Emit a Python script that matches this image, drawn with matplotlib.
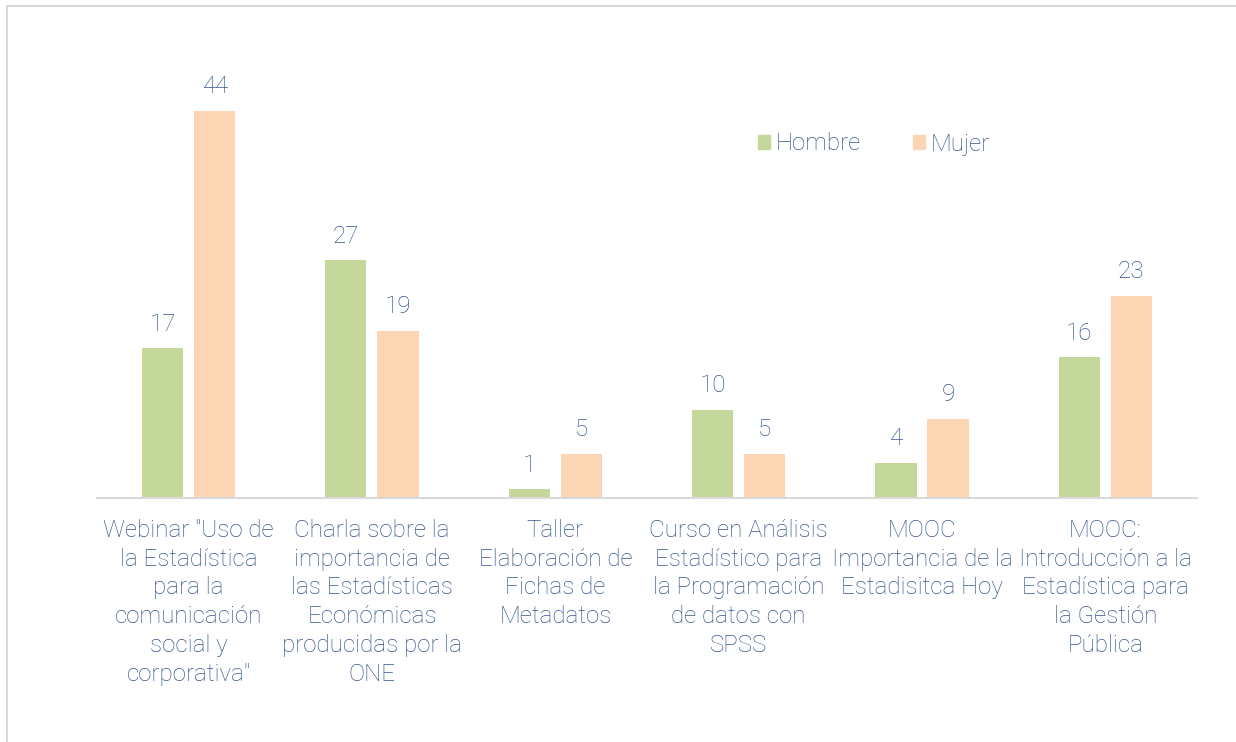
import matplotlib
matplotlib.use("Agg")
import matplotlib.pyplot as plt
from matplotlib.lines import Line2D
import numpy as np

categories = [
    'Webinar "Uso de\nla Estadística\npara la\ncomunicación\nsocial y\ncorporativa"',
    'Charla sobre la\nimportancia de\nlas Estadísticas\nEconómicas\nproducidas por la\nONE',
    'Taller\nElaboración de\nFichas de\nMetadatos',
    'Curso en Análisis\nEstadístico para\nla Programación\nde datos con\nSPSS',
    'MOOC\nImportancia de la\nEstadisitca Hoy',
    'MOOC:\nIntroducción a la\nEstadística para\nla Gestión\nPública',
]
hombre = [17, 27, 1, 10, 4, 16]
mujer = [44, 19, 5, 5, 9, 23]
series_names = ["Hombre", "Mujer"]

green = "#C5D89C"
peach = "#FCD5B4"
txt = "#34568C"
plt.rcParams['font.family'] = ['Roboto', 'DejaVu Sans']
fw = 'light'
fs = 17.4

fig = plt.figure(figsize=(12.36, 7.42), dpi=100)
ax = fig.add_axes([97/1236, 1-498/742, 1100/1236, 440/742])

x = np.arange(len(categories))
w = 0.224
off = 0.142
b1 = ax.bar(x - off, hombre, w, color=green)
b2 = ax.bar(x + off, mujer, w, color=peach)

for bars, vals in ((b1, hombre), (b2, mujer)):
    for r, v in zip(bars, vals):
        ax.annotate(str(v), (r.get_x() + r.get_width()/2, v), xytext=(0, 9),
                    textcoords='offset points', ha='center', va='bottom',
                    fontsize=fs, color=txt, fontweight=fw)

ax.set_xlim(-0.5, 5.5)
ax.set_ylim(0, 50)
ax.set_xticks(x)
ax.set_xticklabels(categories, fontsize=fs, color=txt, fontweight=fw, linespacing=1.32)
ax.tick_params(axis='x', length=0, pad=15)
ax.set_yticks([])
for s in ['left', 'right', 'top']:
    ax.spines[s].set_visible(False)
ax.spines['bottom'].set_color('#D9D9D9')
ax.spines['bottom'].set_linewidth(1.5)

handles = [plt.Rectangle((0, 0), 1, 1, color=green), plt.Rectangle((0, 0), 1, 1, color=peach)]
leg = fig.legend(handles, series_names, loc='center', bbox_to_anchor=(874/1236, 1-144/742),
                 ncol=2, frameon=False, fontsize=fs, handlelength=0.5, handleheight=0.5,
                 handletextpad=0.25, columnspacing=2.15)
for t in leg.get_texts():
    t.set_color(txt)
    t.set_fontweight(fw)

# partial frame
fig.add_artist(Line2D([7/1236, 7/1236], [0, 1-6/742], transform=fig.transFigure, color='#D9D9D9', lw=1.5))
fig.add_artist(Line2D([7/1236, 1], [1-6/742, 1-6/742], transform=fig.transFigure, color='#D9D9D9', lw=1.5))

fig.savefig("out.png", dpi=100, facecolor='white')
